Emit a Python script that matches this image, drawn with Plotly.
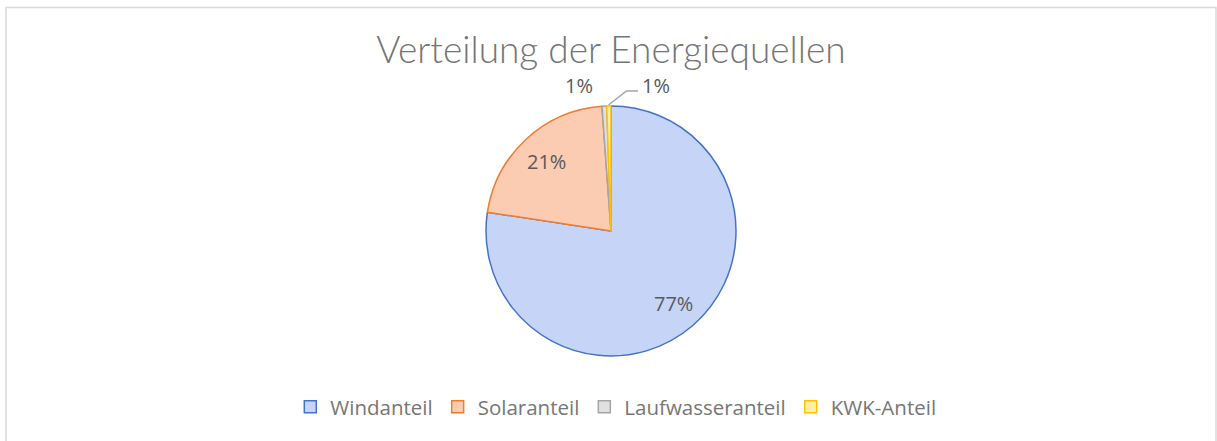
import plotly.graph_objects as go

categories = ["Windanteil", "Solaranteil", "Laufwasseranteil", "KWK-Anteil"]
values = [77.4, 21.45, 0.6, 0.55]
fill_colors = ["#C6D5F7", "#FBCCB2", "#E0E0E0", "#FFEFA6"]
line_colors = ["#4472C4", "#ED7D31", "#A5A5A5", "#FFC000"]

W, H = 1217, 441
cx, cy, r = 611, 231, 125

total = sum(values)
pct = [f"{int(v / total * 100 + 0.5)}%" for v in values]

fig = go.Figure(go.Pie(
    labels=categories,
    values=values,
    sort=False,
    direction="clockwise",
    rotation=0,
    marker=dict(colors=fill_colors, line=dict(color=line_colors, width=1.5)),
    textinfo="none",
    domain=dict(x=[(cx - r) / W, (cx + r) / W], y=[1 - (cy + r) / H, 1 - (cy - r) / H]),
    hoverinfo="label+percent",
))

def px(x):
    return x / W

def py(y):
    return 1 - y / H

label_pos = [(673, 303), (546, 162), (579, 85), (656, 85)]
annotations = [
    dict(text=t, x=px(x), y=py(y), xref="paper", yref="paper", showarrow=False,
         xanchor="center", yanchor="middle", borderpad=0,
         font=dict(family="Open Sans", size=20, color="#595959"))
    for t, (x, y) in zip(pct, label_pos)
]

leader = f"M {px(608.5)},{py(105)} L {px(626.5)},{py(91)} L {px(638)},{py(91)}"

fig.update_layout(
    width=W, height=H,
    margin=dict(l=0, r=0, t=0, b=0),
    paper_bgcolor="white",
    title=dict(text="Verteilung der Energiequellen", x=0.502, xanchor="center",
               y=py(50), yanchor="middle",
               font=dict(family="Lato", size=37, color="#757575", weight=300)),
    legend=dict(orientation="h", x=0.506, xanchor="center", y=py(407), yanchor="middle",
                font=dict(family="Open Sans", size=20.5, color="#767676")),
    showlegend=True,
    annotations=annotations,
    shapes=[
        dict(type="rect", xref="paper", yref="paper", x0=px(6), x1=px(1216),
             y0=-0.05, y1=py(7.5), line=dict(color="#D9D9D9", width=1.5)),
        dict(type="path", xref="paper", yref="paper", path=leader,
             line=dict(color="#A5A5A5", width=1.5)),
    ],
)

fig.write_html("out.html", config={"displayModeBar": False},
               post_script="document.body.style.margin='0';document.body.style.overflow='hidden';")
